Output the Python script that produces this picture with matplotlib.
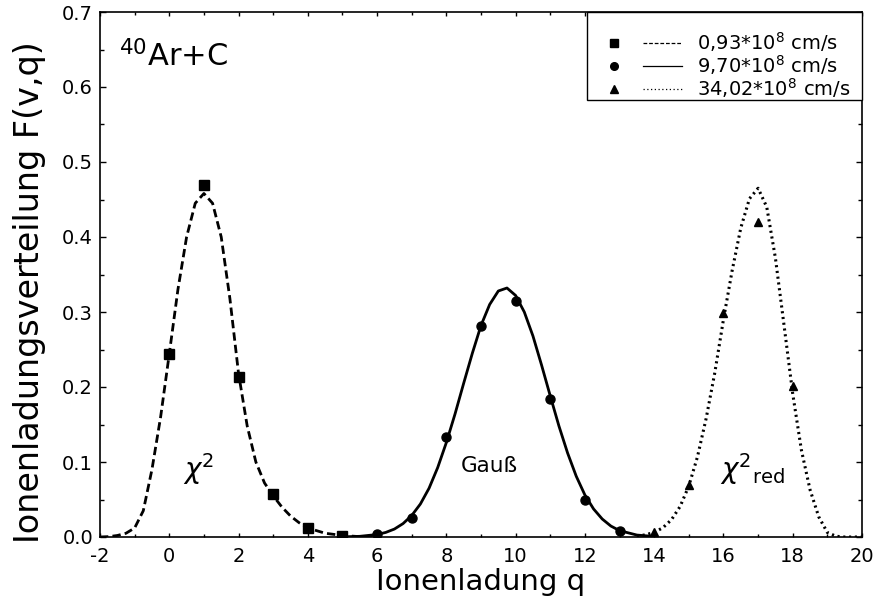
import matplotlib.pyplot as plt
from matplotlib.legend_handler import HandlerTuple
from matplotlib.lines import Line2D
from matplotlib.patches import Rectangle
from matplotlib.ticker import MultipleLocator

plt.rcParams['font.family'] = ['DejaVu Sans']
plt.rcParams['mathtext.fontset'] = 'dejavusans'
plt.rcParams['axes.unicode_minus'] = False

# measured charge state distributions F(v,q)
q_slow = [0, 1, 2, 3, 4, 5]
f_slow = [0.244, 0.470, 0.214, 0.057, 0.012, 0.002]
q_mid = [6, 7, 8, 9, 10, 11, 12, 13]
f_mid = [0.004, 0.026, 0.134, 0.282, 0.315, 0.184, 0.050, 0.008]
q_fast = [14, 15, 16, 17, 18]
f_fast = [0.007, 0.070, 0.299, 0.420, 0.201]

# fit curves (chi^2, Gauss, reduced chi^2)
q_fit_slow = [-2.0, -1.75, -1.5, -1.25, -1.0, -0.75, -0.5, -0.25, 0.0, 0.25, 0.5, 0.75, 1.0,
              1.25, 1.5, 1.75, 2.0, 2.25, 2.5, 2.75, 3.0, 3.25, 3.5, 3.75, 4.0, 4.5, 5.0, 5.5, 6.0]
f_fit_slow = [0.0, 0.0005, 0.002, 0.005, 0.012, 0.035, 0.090, 0.160, 0.244, 0.330, 0.400, 0.445, 0.458,
              0.445, 0.400, 0.318, 0.218, 0.148, 0.100, 0.072, 0.055, 0.040, 0.028, 0.019, 0.012, 0.005,
              0.002, 0.0005, 0.0]
q_fit_mid = [5.0, 5.5, 6.0, 6.25, 6.5, 6.75, 7.0, 7.25, 7.5, 7.75, 8.0, 8.25, 8.5, 8.75, 9.0, 9.25, 9.5,
             9.75, 10.0, 10.25, 10.5, 10.75, 11.0, 11.25, 11.5, 11.75, 12.0, 12.25, 12.5, 12.75, 13.0,
             13.5, 14.0]
f_fit_mid = [0.0002, 0.0009, 0.0033, 0.0061, 0.0106, 0.0179, 0.0287, 0.044, 0.065, 0.0926, 0.126, 0.164,
             0.205, 0.245, 0.282, 0.310, 0.328, 0.332, 0.322, 0.300, 0.268, 0.229, 0.188, 0.148, 0.112,
             0.081, 0.056, 0.0374, 0.024, 0.0146, 0.0085, 0.0026, 0.0007]
q_fit_fast = [13.5, 13.75, 14.0, 14.25, 14.5, 14.75, 15.0, 15.25, 15.5, 15.75, 16.0, 16.25, 16.5, 16.75,
              17.0, 17.25, 17.5, 17.75, 18.0, 18.25, 18.5, 18.75, 19.0, 19.25, 19.5, 19.75, 20.0]
f_fit_fast = [0.0013, 0.0029, 0.0062, 0.0123, 0.0231, 0.0408, 0.068, 0.107, 0.158, 0.219, 0.290, 0.355,
              0.412, 0.451, 0.465, 0.440, 0.372, 0.282, 0.191, 0.116, 0.063, 0.027, 0.006, 0.001, 0.0,
              0.0, 0.0]

velocity_labels = [r'0,93*10$^8$ cm/s', r'9,70*10$^8$ cm/s', r'34,02*10$^8$ cm/s']

fig = plt.figure(figsize=(8.74, 6.06), dpi=100)
ax = fig.add_axes([100 / 874, 1 - 537 / 606, 762 / 874, 525 / 606])

ax.plot(q_fit_slow, f_fit_slow, color='black', lw=2.0, ls=(0, (3, 1.5)), zorder=2)
ax.plot(q_fit_mid, f_fit_mid, color='black', lw=2.0, ls='-', zorder=2)
ax.plot(q_fit_fast, f_fit_fast, color='black', lw=2.2, ls=(0, (0.7, 1.2)), zorder=2)

ax.plot(q_slow, f_slow, ls='none', marker='s', ms=7, color='black', zorder=3)
ax.plot(q_mid, f_mid, ls='none', marker='o', ms=6.5, color='black', zorder=3)
ax.plot(q_fast, f_fast, ls='none', marker='^', ms=6, color='black', zorder=3)

ax.text(0.85, 0.09, r'$\chi^2$', fontsize=20, ha='center', va='center')
ax.text(9.25, 0.095, 'Gauß', fontsize=15.5, ha='center', va='center')
ax.text(16.85, 0.09, r'$\chi^{2}{}_{\mathsf{red}}$', fontsize=20, ha='center', va='center')
ax.text(-1.45, 0.641, r'$^{40}$Ar+C', fontsize=22, ha='left', va='center')

ax.set_xlim(-2, 20)
ax.set_ylim(0, 0.7)
ax.xaxis.set_major_locator(MultipleLocator(2))
ax.xaxis.set_minor_locator(MultipleLocator(1))
ax.yaxis.set_major_locator(MultipleLocator(0.1))
ax.yaxis.set_minor_locator(MultipleLocator(0.05))
ax.yaxis.set_major_formatter(plt.FormatStrFormatter('%.1f'))
ax.tick_params(which='both', direction='in', top=True, right=True, labelsize=14, width=1)
ax.tick_params(axis='x', which='major', length=3, pad=7)
ax.tick_params(axis='x', which='minor', length=2.5)
ax.tick_params(axis='y', which='major', length=4, pad=5)
ax.tick_params(axis='y', which='minor', length=3)
for sp in ax.spines.values():
    sp.set_linewidth(1.2)

ax.set_xlabel('Ionenladung q', fontsize=21, labelpad=2)
ax.set_ylabel('Ionenladungsverteilung F(v,q)', fontsize=24)
ax.yaxis.set_label_coords(-0.071, 0.467)

# legend box sits in the upper right corner of the frame
ax.add_patch(Rectangle((487 / 762, 437 / 525), 275 / 762, 88 / 525, transform=ax.transAxes,
                       facecolor='white', edgecolor='black', lw=1.0, zorder=4, clip_on=False))
handles = [
    (Line2D([], [], ls='none', marker='s', ms=6, color='black'),
     Line2D([], [], ls=(0, (3, 1.5)), lw=0.9, color='black')),
    (Line2D([], [], ls='none', marker='o', ms=5.5, color='black'),
     Line2D([], [], ls='-', lw=0.9, color='black')),
    (Line2D([], [], ls='none', marker='^', ms=5.5, color='black'),
     Line2D([], [], ls=(0, (1, 2)), lw=0.9, color='black')),
]
leg = ax.legend(handles, velocity_labels, loc='upper left', bbox_to_anchor=(495 / 762, 507 / 525),
                fontsize=14, frameon=False, borderaxespad=0, borderpad=0, handlelength=4.47,
                handletextpad=0.77, labelspacing=-0.05,
                handler_map={tuple: HandlerTuple(ndivide=None, pad=0.46)})
leg.set_zorder(5)

fig.savefig('out.png', dpi=100)
